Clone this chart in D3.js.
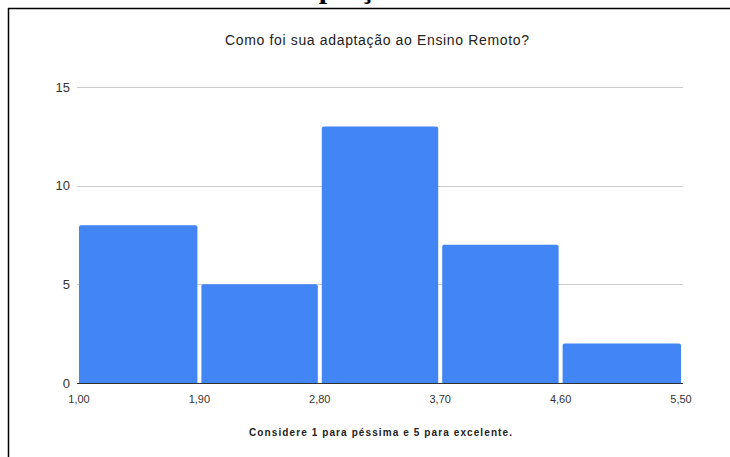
<!DOCTYPE html>
<html>
<head>
<meta charset="utf-8">
<script src="https://cdn.jsdelivr.net/npm/d3@7/dist/d3.min.js"></script>
<style>
  html, body { margin: 0; padding: 0; background: #fff; }
  svg { display: block; }
</style>
</head>
<body>
<script>
// Histogram bins (lower edges, upper edges) and counts
const binStarts = [1.0, 1.9, 2.8, 3.7, 4.6];
const binEnds   = [1.9, 2.8, 3.7, 4.6, 5.5];
const counts    = [8, 5, 13, 7, 2];
const xTicks    = [1.0, 1.9, 2.8, 3.7, 4.6, 5.5];
const yTicks    = [0, 5, 10, 15];
const title     = "Como foi sua adaptação ao Ensino Remoto?";
const xTitle    = "Considere 1 para péssima e 5 para excelente.";

const W = 730, H = 457;
const svg = d3.select("body").append("svg").attr("width", W).attr("height", H);

// Fragment of the document heading above the chart frame (only descenders visible)
svg.append("text")
  .attr("x", 272).attr("y", -2)
  .attr("font-family", "Liberation Serif")
  .attr("font-weight", "bold")
  .attr("font-size", 30)
  .attr("fill", "#000")
  .text("adaptação");

// Frame lines around the chart
svg.append("line").attr("x1", 8).attr("x2", W).attr("y1", 8.5).attr("y2", 8.5)
  .attr("stroke", "#000").attr("stroke-width", 1.5);
svg.append("line").attr("x1", 8.5).attr("x2", 8.5).attr("y1", 8).attr("y2", H)
  .attr("stroke", "#000").attr("stroke-width", 1.5);

const x = d3.scaleLinear().domain([1.0, 5.5]).range([79, 681]);
const y = d3.scaleLinear().domain([0, 15]).range([383, 87]);

// Gridlines
svg.append("g").selectAll("line").data(yTicks.filter(d => d > 0)).join("line")
  .attr("x1", 77).attr("x2", 683)
  .attr("y1", d => Math.round(y(d)) + 0.5).attr("y2", d => Math.round(y(d)) + 0.5)
  .attr("stroke", "#cccccc").attr("stroke-width", 1);

// Y tick labels
svg.append("g").selectAll("text").data(yTicks).join("text")
  .attr("x", 70).attr("y", d => y(d))
  .attr("dy", "0.36em")
  .attr("text-anchor", "end")
  .attr("font-family", "Liberation Sans, Arial, sans-serif")
  .attr("font-size", 13)
  .attr("fill", "#333")
  .text(d => d);

// Bars
const bars = binStarts.map((s, i) => ({ s, e: binEnds[i], c: counts[i], i }));
const n = bars.length;
const r = 2;
svg.append("g").selectAll("path").data(bars).join("path")
  .attr("fill", "#4285f4")
  .attr("d", d => {
    const x0 = x(d.s) + (d.i > 0 ? 2 : 0);
    const x1 = x(d.e) - (d.i < n - 1 ? 2 : 0);
    const y0 = y(d.c), yb = y(0);
    return `M${x0},${yb} L${x0},${y0 + r} Q${x0},${y0} ${x0 + r},${y0} ` +
           `L${x1 - r},${y0} Q${x1},${y0} ${x1},${y0 + r} L${x1},${yb} Z`;
  });

// Baseline
svg.append("line").attr("x1", 77).attr("x2", 683)
  .attr("y1", y(0) + 0.5).attr("y2", y(0) + 0.5)
  .attr("stroke", "#333").attr("stroke-width", 1);

// X tick labels
const fmt = d => d3.format(".2f")(d).replace(".", ",");
svg.append("g").selectAll("text").data(xTicks).join("text")
  .attr("x", d => x(d)).attr("y", 403)
  .attr("text-anchor", "middle")
  .attr("font-family", "Liberation Sans, Arial, sans-serif")
  .attr("font-size", 11)
  .attr("fill", "#333")
  .text(fmt);

// Title
svg.append("text")
  .attr("x", 225).attr("y", 45)
  .attr("font-family", "Liberation Sans, Arial, sans-serif")
  .attr("font-size", 14)
  .attr("fill", "#222")
  .attr("textLength", 304)
  .attr("lengthAdjust", "spacing")
  .text(title);

// X axis title
svg.append("text")
  .attr("x", 249).attr("y", 436)
  .attr("font-family", "Liberation Sans, Arial, sans-serif")
  .attr("font-size", 10)
  .attr("font-weight", "bold")
  .attr("fill", "#222")
  .attr("textLength", 263)
  .attr("lengthAdjust", "spacing")
  .text(xTitle);
</script>
</body>
</html>
